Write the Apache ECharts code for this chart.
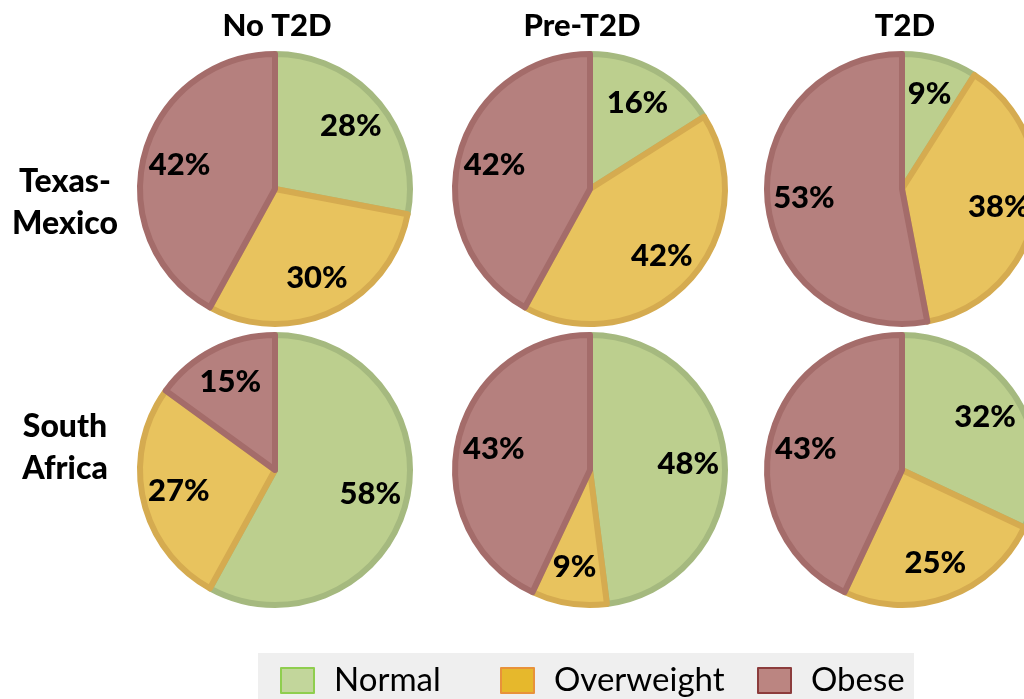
<!DOCTYPE html>
<html>
<head>
<meta charset="utf-8">
<style>
  html, body { margin: 0; padding: 0; background: #ffffff; }
  #chart { width: 1024px; height: 699px; }
</style>
<script src="https://cdn.jsdelivr.net/npm/echarts@6/dist/echarts.min.js"></script>
</head>
<body>
<div id="chart"></div>
<script>
// BMI category shares (%) by diabetes status
const categories = ['Normal', 'Overweight', 'Obese'];
const groupNames = ['No T2D', 'Pre-T2D', 'T2D'];
const regionNames = ['Texas-\nMexico', 'South\nAfrica'];

const texasNoT2D = [28, 30, 42];
const texasPreT2D = [16, 42, 42];
const texasT2D = [9, 38, 53];
const africaNoT2D = [58, 27, 15];
const africaPreT2D = [48, 9, 43];
const africaT2D = [32, 25, 43];

// Slice and legend styling
const sliceFill = ['#bccf8e', '#e8c35e', '#b5807e'];
const sliceBorder = ['#a5b97f', '#d5ab50', '#a46c6a'];
const legendFill = ['#c2d69b', '#e6b82c', '#bb8581'];
const legendBorder = ['#8fce4e', '#e8923a', '#8c3c3c'];

const FONT = 'Lato, "Open Sans", sans-serif';
const colX = [275, 590, 902];
const rowY = [189, 470];
const R = 135;

const grid = [
  [texasNoT2D, texasPreT2D, texasT2D],
  [africaNoT2D, africaPreT2D, africaT2D]
];

const series = [];
grid.forEach((row, r) => {
  row.forEach((vals, c) => {
    const data = categories.map((name, i) => ({
      name: name,
      value: vals[i],
      itemStyle: { color: sliceFill[i], borderColor: sliceBorder[i] }
    }));
    // filled pie
    series.push({
      type: 'pie',
      center: [colX[c], rowY[r]],
      radius: [0, R],
      startAngle: 90,
      clockwise: true,
      silent: true,
      itemStyle: { borderWidth: 6 },
      label: { show: false },
      labelLine: { show: false },
      emphasis: { disabled: true },
      data: data
    });
    // transparent ring that places the percentage labels further out
    series.push({
      type: 'pie',
      center: [colX[c], rowY[r]],
      radius: [56, R],
      startAngle: 90,
      clockwise: true,
      silent: true,
      itemStyle: { color: 'rgba(0,0,0,0)', borderWidth: 0 },
      label: {
        show: true,
        position: 'inside',
        formatter: '{c}%',
        fontFamily: FONT,
        fontWeight: 900,
        fontSize: 31,
        color: '#000000'
      },
      labelLine: { show: false },
      emphasis: { disabled: true },
      data: categories.map((name, i) => ({ name: name, value: vals[i] }))
    });
  });
});

const titles = [];
groupNames.forEach((t, c) => {
  titles.push({
    text: t,
    left: colX[c] + (c === 1 ? -8 : (c === 2 ? 3 : 2)),
    top: 10,
    padding: 0,
    textAlign: 'center',
    textStyle: { fontFamily: FONT, fontWeight: 900, fontSize: 31, color: '#000000' }
  });
});
regionNames.forEach((t, r) => {
  titles.push({
    text: t,
    left: 65,
    top: rowY[r] - (r === 0 ? 28 : 64),
    padding: 0,
    textAlign: 'center',
    textStyle: { fontFamily: FONT, fontWeight: 900, fontSize: 32, lineHeight: 42, color: '#000000' }
  });
});

const legendLeft = [280, 500, 757];
const legends = categories.map((name, i) => ({
  data: [{
    name: name,
    icon: 'rect',
    itemStyle: { color: legendFill[i], borderColor: legendBorder[i], borderWidth: 2 }
  }],
  left: legendLeft[i],
  top: 664,
  padding: 0,
  itemWidth: 33,
  itemHeight: 25,
  selectedMode: false,
  textStyle: {
    fontFamily: FONT,
    fontSize: 33,
    color: '#000000',
    padding: [4, 0, 0, 15]
  }
}));

const chart = echarts.init(document.getElementById('chart'), null, { renderer: 'canvas' });
chart.setOption({
  animation: false,
  backgroundColor: '#ffffff',
  title: titles,
  legend: legends,
  graphic: [{
    type: 'rect',
    z: -1,
    shape: { x: 258, y: 653, width: 656, height: 50 },
    style: { fill: '#efefef' },
    silent: true
  }],
  series: series
});
</script>
</body>
</html>
